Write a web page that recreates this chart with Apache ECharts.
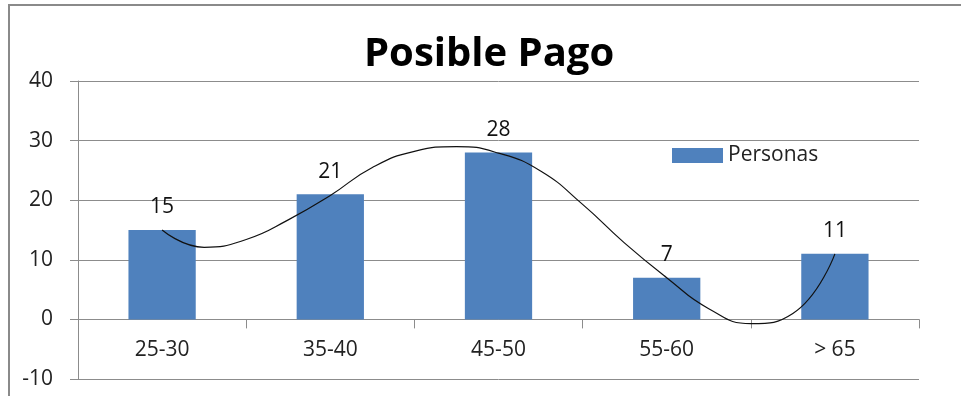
<!DOCTYPE html>
<html>
<head>
<meta charset="utf-8">
<title>Posible Pago</title>
<script src="https://cdn.jsdelivr.net/npm/echarts@6/dist/echarts.min.js"></script>
<style>
  html, body { margin: 0; padding: 0; background: #fff; }
  #chart { width: 961px; height: 396px; }
</style>
</head>
<body>
<div id="chart"></div>
<script>
// Age ranges and number of people per range
const categories = ['25-30', '35-40', '45-50', '55-60', '> 65'];
const personas = [15, 21, 28, 7, 11];

// Y axis ticks
const yTicks = [-10, 0, 10, 20, 30, 40];

// Trend curve samples: position along the category axis (0 = first range) and value
const trendX = [0, 0.25, 0.5, 0.75, 1, 1.25, 1.5, 1.75, 2, 2.25, 2.5, 2.75, 3, 3.25, 3.5, 3.75, 4];
const trendY = [15, 12.1, 13.4, 16.7, 20.8, 25.5, 28.2, 29.0, 27.9, 24.9, 19.3, 12.8, 7.0, 1.8, -0.7, 1.0, 11.0];

const FONT = '"Open Sans", "Noto Sans", sans-serif';
const GRID_COLOR = '#8c8c8c';

// Plot box in pixels; the category axis sits on the zero line, one step above the bottom
const GRID_TOP = 81;
const GRID_BOTTOM = 17;
const PLOT_HEIGHT = 396 - GRID_TOP - GRID_BOTTOM;
const zeroOffset = -PLOT_HEIGHT * (0 - yTicks[0]) / (yTicks[yTicks.length - 1] - yTicks[0]);

const chart = echarts.init(document.getElementById('chart'), null, { renderer: 'canvas' });

chart.setOption({
  animation: false,
  backgroundColor: '#ffffff',
  textStyle: { fontFamily: FONT },
  graphic: [{
    type: 'rect',
    shape: { x: 9, y: 5, width: 1200, height: 1200 },
    style: { fill: 'none', stroke: '#8a8a8a', lineWidth: 2 },
    silent: true
  }],
  title: {
    text: 'Posible Pago',
    left: 359,
    top: 30,
    textStyle: { fontFamily: FONT, fontSize: 40, fontWeight: 'bold', color: '#000' }
  },
  legend: {
    data: ['Personas'],
    left: 667,
    top: 140,
    itemWidth: 51,
    itemHeight: 15,
    itemGap: 8,
    textStyle: { fontFamily: FONT, fontSize: 21, color: '#222' },
    icon: 'rect'
  },
  grid: { left: 78, right: 42, top: GRID_TOP, bottom: GRID_BOTTOM, containLabel: false, outerBoundsMode: 'none' },
  xAxis: [{
    type: 'category',
    data: categories,
    position: 'bottom',
    offset: zeroOffset,
    boundaryGap: true,
    axisLine: { onZero: false, lineStyle: { color: GRID_COLOR, width: 1 } },
    axisTick: { show: true, length: 9, lineStyle: { color: GRID_COLOR } },
    axisLabel: { margin: 20, fontFamily: FONT, fontSize: 21, color: '#222' },
    splitLine: { show: false }
  }, {
    type: 'value',
    min: -0.5,
    max: 4.5,
    show: false
  }],
  yAxis: {
    type: 'value',
    min: yTicks[0],
    max: yTicks[yTicks.length - 1],
    interval: 10,
    axisLine: { show: true, onZero: false, lineStyle: { color: GRID_COLOR, width: 1 } },
    axisTick: { show: true, length: 8, lineStyle: { color: GRID_COLOR } },
    axisLabel: { margin: 25, fontFamily: FONT, fontSize: 21, color: '#222' },
    splitLine: { show: true, lineStyle: { color: GRID_COLOR, width: 1 } }
  },
  series: [{
    name: 'Personas',
    type: 'bar',
    xAxisIndex: 0,
    data: personas,
    barWidth: '40%',
    itemStyle: { color: '#4F81BD' },
    label: {
      show: true,
      position: 'top',
      distance: 12,
      fontFamily: FONT,
      fontSize: 21,
      color: '#111'
    }
  }, {
    name: 'Tendencia',
    type: 'line',
    xAxisIndex: 1,
    data: trendX.map((x, i) => [x, trendY[i]]),
    smooth: true,
    showSymbol: false,
    symbol: 'none',
    lineStyle: { color: '#111', width: 1.2 },
    z: 5,
    silent: true
  }]
});
</script>
</body>
</html>
